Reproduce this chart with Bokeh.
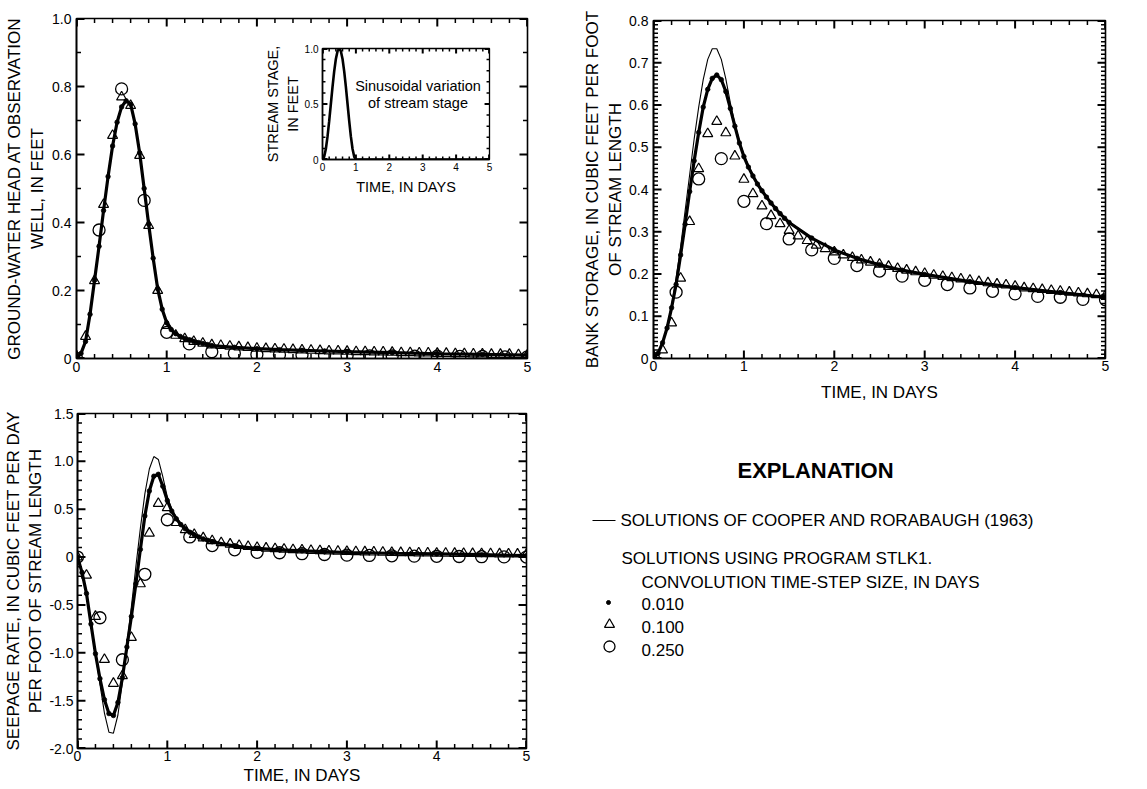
import numpy as np
from bokeh.plotting import figure
from bokeh.models import Range1d, SingleIntervalTicker, Label, NumeralTickFormatter
from bokeh.layouts import column, row
from bokeh.embed import file_html
from bokeh.resources import INLINE

FONT = "Liberation Sans"

# ---------------- data ----------------
T_CURVE = [0.0, 0.05, 0.1, 0.15, 0.2, 0.25, 0.3, 0.35, 0.4, 0.45, 0.5, 0.55, 0.6, 0.65,
           0.7, 0.75, 0.8, 0.85, 0.9, 0.95, 1.0, 1.05, 1.1, 1.15, 1.2, 1.25, 1.3, 1.35,
           1.4, 1.45, 1.5, 1.75, 2.0, 2.25, 2.5, 2.75, 3.0, 3.5, 4.0, 4.5, 5.0]
T_TRI = [0.0, 0.1, 0.2, 0.3, 0.4, 0.5, 0.6, 0.7, 0.8, 0.9, 1.0, 1.1, 1.2, 1.3, 1.4, 1.5,
         1.6, 1.7, 1.8, 1.9, 2.0, 2.1, 2.2, 2.3, 2.4, 2.5, 2.6, 2.7, 2.8, 2.9, 3.0, 3.1,
         3.2, 3.3, 3.4, 3.5, 3.6, 3.7, 3.8, 3.9, 4.0, 4.1, 4.2, 4.3, 4.4, 4.5, 4.6, 4.7,
         4.8, 4.9, 5.0]
T_CIR = [0.0, 0.25, 0.5, 0.75, 1.0, 1.25, 1.5, 1.75, 2.0, 2.25, 2.5, 2.75, 3.0, 3.25,
         3.5, 3.75, 4.0, 4.25, 4.5, 4.75, 5.0]

# Panel A: ground-water head at observation well (ft)
A_EXACT = [0.0, 0.015, 0.05, 0.13, 0.23, 0.33, 0.435, 0.535, 0.625, 0.695, 0.742, 0.76,
           0.75, 0.69, 0.605, 0.5, 0.395, 0.295, 0.205, 0.145, 0.105, 0.085, 0.073, 0.065,
           0.059, 0.054, 0.05, 0.047, 0.044, 0.041, 0.038, 0.033, 0.029, 0.026, 0.024,
           0.022, 0.02, 0.017, 0.014, 0.012, 0.01]
A_DENSE = [0.0, 0.015, 0.05, 0.13, 0.23, 0.33, 0.435, 0.535, 0.625, 0.695, 0.74, 0.758,
           0.748, 0.69, 0.605, 0.5, 0.395, 0.295, 0.205, 0.145, 0.105, 0.085, 0.073, 0.065,
           0.059, 0.054, 0.05, 0.047, 0.044, 0.041, 0.038, 0.033, 0.029, 0.026, 0.024,
           0.022, 0.02, 0.017, 0.014, 0.012, 0.01]
A_TRI = [0.0, 0.065, 0.229, 0.453, 0.656, 0.769, 0.744, 0.597, 0.391, 0.2, 0.097,
         0.068, 0.058, 0.05, 0.045, 0.04, 0.038, 0.036, 0.034, 0.032, 0.03,
         0.029, 0.028, 0.027, 0.026, 0.025, 0.024, 0.023, 0.022, 0.022, 0.021,
         0.02, 0.02, 0.019, 0.019, 0.018, 0.017, 0.017, 0.016, 0.016, 0.015,
         0.015, 0.014, 0.014, 0.013, 0.013, 0.012, 0.012, 0.012, 0.011, 0.011]
A_CIR = [0.0, 0.378, 0.793, 0.465, 0.077, 0.043, 0.02, 0.015, 0.012, 0.011, 0.01, 0.009,
         0.009, 0.008, 0.008, 0.007, 0.007, 0.006, 0.006, 0.005, 0.005]

# Panel B: seepage rate (ft3/d per ft)
B_EXACT = [0.0, -0.15, -0.37, -0.68, -1.01, -1.33, -1.63, -1.83, -1.84, -1.65, -1.31,
           -0.92, -0.52, -0.1, 0.3, 0.66, 0.92, 1.05, 1.02, 0.84, 0.63, 0.5, 0.415, 0.35,
           0.3, 0.262, 0.233, 0.21, 0.19, 0.175, 0.16, 0.115, 0.09, 0.075, 0.065, 0.056,
           0.048, 0.04, 0.033, 0.025, 0.015]
B_DENSE = [0.0, -0.16, -0.38, -0.7, -1.01, -1.27, -1.49, -1.635, -1.655, -1.52, -1.26,
           -0.94, -0.62, -0.28, 0.08, 0.43, 0.69, 0.845, 0.865, 0.74, 0.59, 0.48, 0.4, 0.34,
           0.295, 0.26, 0.232, 0.21, 0.19, 0.175, 0.16, 0.115, 0.09, 0.075, 0.065, 0.056,
           0.048, 0.04, 0.033, 0.025, 0.015]
B_TRI = [0.0, -0.19, -0.62, -1.07, -1.32, -1.24, -0.84, -0.28, 0.25, 0.56, 0.515,
         0.36, 0.285, 0.235, 0.2, 0.17, 0.15, 0.135, 0.12, 0.11, 0.1,
         0.093, 0.087, 0.082, 0.077, 0.073, 0.069, 0.066, 0.063, 0.06, 0.058,
         0.056, 0.054, 0.052, 0.05, 0.048, 0.046, 0.045, 0.043, 0.042, 0.04,
         0.039, 0.038, 0.037, 0.036, 0.035, 0.034, 0.033, 0.032, 0.031, 0.03]
B_CIR = [0.0, -0.634, -1.073, -0.18, 0.39, 0.21, 0.12, 0.076, 0.05, 0.045, 0.035, 0.027,
         0.02, 0.017, 0.013, 0.01, 0.008, 0.006, 0.004, 0.002, 0.0]

# Panel C: bank storage (ft3 per ft)
C_EXACT = [0.0, 0.012, 0.036, 0.074, 0.126, 0.19, 0.265, 0.35, 0.435, 0.52, 0.595, 0.66,
           0.708, 0.733, 0.733, 0.708, 0.662, 0.605, 0.555, 0.515, 0.483, 0.457, 0.435,
           0.415, 0.399, 0.383, 0.369, 0.356, 0.344, 0.333, 0.323, 0.286, 0.258, 0.238,
           0.223, 0.21, 0.2, 0.183, 0.169, 0.157, 0.146]
C_DENSE = [0.0, 0.012, 0.037, 0.072, 0.12, 0.175, 0.245, 0.318, 0.395, 0.468, 0.535, 0.595,
           0.637, 0.663, 0.671, 0.66, 0.632, 0.592, 0.55, 0.51, 0.478, 0.453, 0.432, 0.413,
           0.397, 0.382, 0.368, 0.355, 0.343, 0.332, 0.322, 0.285, 0.257, 0.237, 0.222,
           0.209, 0.199, 0.182, 0.168, 0.156, 0.145]
C_TRI = [0.0, 0.02, 0.084, 0.19, 0.324, 0.449, 0.532, 0.561, 0.534, 0.479, 0.424,
         0.39, 0.361, 0.338, 0.319, 0.303, 0.29, 0.279, 0.268, 0.26, 0.252,
         0.245, 0.239, 0.233, 0.228, 0.223, 0.218, 0.213, 0.209, 0.205, 0.201,
         0.197, 0.194, 0.191, 0.188, 0.185, 0.182, 0.179, 0.176, 0.174, 0.171,
         0.167, 0.165, 0.163, 0.161, 0.159, 0.157, 0.155, 0.153, 0.151, 0.149]
C_CIR = [0.0, 0.157, 0.425, 0.473, 0.372, 0.319, 0.283, 0.257, 0.237, 0.22, 0.207, 0.195,
         0.185, 0.175, 0.167, 0.159, 0.153, 0.147, 0.145, 0.14, 0.139]

# Inset: stream stage (ft)
T_STAGE = [0.0, 0.05, 0.1, 0.15, 0.2, 0.25, 0.3, 0.35, 0.4, 0.45, 0.5, 0.55, 0.6, 0.65,
           0.7, 0.75, 0.8, 0.85, 0.9, 0.95, 1.0, 5.0]
STAGE = [0.0, 0.024, 0.095, 0.206, 0.345, 0.5, 0.655, 0.794, 0.905, 0.976, 1.0, 0.976,
         0.905, 0.794, 0.655, 0.5, 0.345, 0.206, 0.095, 0.024, 0.0, 0.0]

LEGEND_TITLE = "EXPLANATION"
LEGEND_LINE = "SOLUTIONS OF COOPER AND RORABAUGH (1963)"
LEGEND_SUB1 = "SOLUTIONS USING PROGRAM STLK1."
LEGEND_SUB2 = "CONVOLUTION TIME-STEP SIZE, IN DAYS"
STEP_LABELS = ["0.010", "0.100", "0.250"]


# ---------------- helpers ----------------
def make_fig(width, height, left, right, top, bottom, yr, xr=(0, 5), transparent=False):
    p = figure(width=width, height=height, x_range=Range1d(*xr), y_range=Range1d(*yr),
               output_backend="svg", toolbar_location=None,
               min_border_left=left, min_border_right=right,
               min_border_top=top, min_border_bottom=bottom)
    p.frame_align = False
    p.xgrid.visible = False
    p.ygrid.visible = False
    p.outline_line_color = "black"
    p.outline_line_width = 1.6
    if transparent:
        p.background_fill_color = None
        p.border_fill_color = None
    else:
        p.background_fill_color = "white"
        p.border_fill_color = "white"
    return p


def style_axis(ax, tick_font, standoff):
    ax.axis_line_width = 1.6
    ax.axis_line_color = "black"
    ax.major_tick_in = 0
    ax.major_tick_out = 0
    ax.minor_tick_in = 0
    ax.minor_tick_out = 0
    ax.major_label_text_font = FONT
    ax.major_label_text_color = "black"
    ax.major_label_text_font_size = tick_font
    ax.major_label_standoff = standoff
    ax.axis_label_text_font = FONT
    ax.axis_label_text_font_style = "normal"
    ax.axis_label_text_color = "black"


def ticks_between(lo, hi, step):
    n = int(round((hi - lo) / step))
    return [lo + i * step for i in range(n + 1)]


def add_inward_ticks(p, xr, yr, fw, fh, xint, xsub, yint, ysub, major_len, minor_len):
    """Inward tick marks on all four frame sides: one NaN-broken line per tick class."""
    xa0, xa1 = xr
    ya0, ya1 = yr
    dx = (xa1 - xa0) / fw   # data units per pixel
    dy = (ya1 - ya0) / fh
    eps_x = 0.4 * dx
    eps_y = 0.4 * dy
    xmaj = ticks_between(xa0, xa1, xint)
    ymaj = ticks_between(ya0, ya1, yint)
    xmin = [v for v in ticks_between(xa0, xa1, xint / xsub)
            if min(abs(v - m) for m in xmaj) > 1e-9]
    ymin = [v for v in ticks_between(ya0, ya1, yint / ysub)
            if min(abs(v - m) for m in ymaj) > 1e-9]
    for xv, yv, ln, lw in ((xmaj, ymaj, major_len, 2.0), (xmin, ymin, minor_len, 1.5)):
        xs, ys = [], []
        for v in xv:
            v = min(max(v, xa0 + eps_x), xa1 - eps_x)
            xs += [v, v, np.nan, v, v, np.nan]
            ys += [ya0 + eps_y, ya0 + ln * dy, np.nan, ya1 - eps_y, ya1 - ln * dy, np.nan]
        for v in yv:
            v = min(max(v, ya0 + eps_y), ya1 - eps_y)
            xs += [xa0 + eps_x, xa0 + ln * dx, np.nan, xa1 - eps_x, xa1 - ln * dx, np.nan]
            ys += [v, v, np.nan, v, v, np.nan]
        p.line(np.array(xs), np.array(ys), line_color="black", line_width=lw)


def setup_axes(p, xr, yr, fw, fh, xint, xsub, yint, ysub, tick_font="14px", xstand=2,
               ystand=5, major_len=8, minor_len=4.5):
    xb = p.xaxis[0]
    yl = p.yaxis[0]
    xb.ticker = SingleIntervalTicker(interval=xint, num_minor_ticks=xsub)
    yl.ticker = SingleIntervalTicker(interval=yint, num_minor_ticks=ysub)
    style_axis(xb, tick_font, xstand)
    style_axis(yl, tick_font, ystand)
    yl.formatter = NumeralTickFormatter(format="0.0")
    yl.major_label_overrides = {0: "0"}
    add_inward_ticks(p, xr, yr, fw, fh, xint, xsub, yint, ysub, major_len, minor_len)
    return xb, yl


def draw_series(p, exact, dense, tri, cir):
    p.line(T_CURVE, exact, line_color="black", line_width=1.1)
    p.line(T_CURVE, dense, line_color="black", line_width=3.2)
    p.scatter(T_CURVE, dense, marker="circle", size=4.5, fill_color="black",
              line_color="black", line_width=0.8)
    p.scatter(T_TRI, tri, marker="triangle", size=10, fill_color=None,
              line_color="black", line_width=1.2)
    p.scatter(T_CIR, cir, marker="circle", size=12, fill_color=None,
              line_color="black", line_width=1.3)


def panel_letter(p, x, y, letter):
    p.add_layout(Label(x=x, y=y, text=letter, text_font=FONT, text_font_size="17px",
                       text_font_style="bold italic", text_color="black",
                       text_align="center", text_baseline="middle"))


# ---------------- panel A ----------------
pA = make_fig(570, 388, 76, 43, 18, 30, (0, 1.0))
xa, ya = setup_axes(pA, (0, 5), (0, 1.0), 451, 340, 1, 5, 0.2, 2, xstand=3, ystand=5)
ya.axis_label = "GROUND-WATER HEAD AT OBSERVATION\nWELL, IN FEET"
ya.axis_label_text_font_size = "17px"
ya.axis_label_standoff = 2
draw_series(pA, A_EXACT, A_DENSE, A_TRI, A_CIR)
panel_letter(pA, 5.23, 0.935, "A")

# ---------------- inset ----------------
pI = make_fig(237, 166, 58, 10, 10, 45, (0, 1.0), transparent=True)
xi, yi = setup_axes(pI, (0, 5), (0, 1.0), 169, 111, 1, 5, 0.5, 5, tick_font="10px",
                    xstand=3, ystand=4, major_len=5, minor_len=3)
xi.axis_label = "TIME, IN DAYS"
xi.axis_label_text_font_size = "14.5px"
xi.axis_label_standoff = 5
yi.axis_label = "STREAM STAGE,\nIN FEET"
yi.axis_label_text_font_size = "14.5px"
yi.axis_label_standoff = 1
pI.outline_line_width = 1.3
pI.line(T_STAGE, STAGE, line_color="black", line_width=2.6)
for txt, yy in (("Sinusoidal variation", 0.665), ("of stream stage", 0.505)):
    pI.add_layout(Label(x=2.86, y=yy, text=txt, text_font=FONT, text_font_size="14.5px",
                        text_color="black", text_align="center", text_baseline="middle"))
# place the inset over panel A (figure top-left at x=262, y=38)
pI.margin = (38 - 388, 0, 388 - (38 + 166), 262)

# ---------------- panel B ----------------
pB = make_fig(570, 401, 76, 44, 25, 41, (-2.0, 1.5))
xb_, yb_ = setup_axes(pB, (0, 5), (-2.0, 1.5), 450, 335, 1, 5, 0.5, 5, xstand=2, ystand=4)
yb_.axis_label = "SEEPAGE RATE, IN CUBIC FEET PER DAY\nPER FOOT OF STREAM LENGTH"
yb_.axis_label_text_font_size = "17px"
yb_.axis_label_standoff = 1
xb_.axis_label = "TIME, IN DAYS"
xb_.axis_label_text_font_size = "17px"
xb_.axis_label_standoff = 2
draw_series(pB, B_EXACT, B_DENSE, B_TRI, B_CIR)
panel_letter(pB, 5.23, 1.30, "B")

# ---------------- panel C ----------------
pC = make_fig(577, 408, 83, 42, 20, 50, (0, 0.8))
xc, yc = setup_axes(pC, (0, 5), (0, 0.8), 452, 338, 1, 5, 0.1, 10, xstand=2, ystand=5)
yc.axis_label = "BANK STORAGE, IN CUBIC FEET PER FOOT\nOF STREAM LENGTH"
yc.axis_label_text_font_size = "17px"
yc.axis_label_standoff = 1
xc.axis_label = "TIME, IN DAYS"
xc.axis_label_text_font_size = "17px"
xc.axis_label_standoff = 9
draw_series(pC, C_EXACT, C_DENSE, C_TRI, C_CIR)
panel_letter(pC, 5.277, 0.748, "C")

# ---------------- explanation ----------------
pL = figure(width=577, height=381, x_range=Range1d(0, 577), y_range=Range1d(381, 0),
            output_backend="svg", toolbar_location=None,
            x_axis_location=None, y_axis_location=None,
            min_border_left=0, min_border_right=0, min_border_top=0, min_border_bottom=0)
pL.frame_align = False
pL.xgrid.visible = False
pL.ygrid.visible = False
pL.outline_line_color = None


def ltext(x, y, t, size="17px", style="normal", align="left"):
    pL.add_layout(Label(x=x, y=y, text=t, text_font=FONT, text_font_size=size,
                        text_font_style=style, text_color="black",
                        text_align=align, text_baseline="middle"))


ltext(245, 62, LEGEND_TITLE, size="22px", style="bold", align="center")
pL.line([22, 45], [112, 112], line_color="black", line_width=1.2)
ltext(50, 112, LEGEND_LINE)
ltext(51, 150, LEGEND_SUB1)
ltext(71, 174, LEGEND_SUB2)
ltext(71, 195, STEP_LABELS[0])
ltext(71, 218, STEP_LABELS[1])
ltext(71, 241, STEP_LABELS[2])
pL.scatter([38], [194], marker="circle", size=4, fill_color="black", line_color="black")
pL.scatter([39], [216], marker="triangle", size=10, fill_color=None, line_color="black",
           line_width=1.2)
pL.scatter([39], [238], marker="circle", size=11, fill_color=None, line_color="black",
           line_width=1.3)

layout = row(column(pA, pI, pB), column(pC, pL))

open("out.html", "w").write(file_html(layout, INLINE))
